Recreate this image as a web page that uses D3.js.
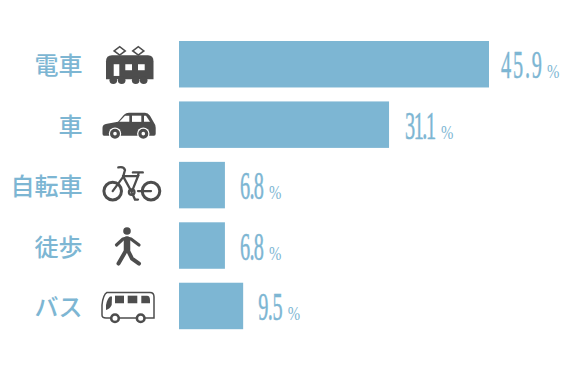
<!DOCTYPE html>
<html>
<head>
<meta charset="utf-8">
<script src="https://cdn.jsdelivr.net/npm/d3@7"></script>
<style>
  html, body { margin: 0; padding: 0; background: #fff; }
  svg { display: block; }
</style>
</head>
<body>
<div id="chart"></div>
<script>
const categories = ['電車', '車', '自転車', '徒歩', 'バス'];
const values = [45.9, 31.1, 6.8, 6.8, 9.5];
const iconNames = ['train', 'car', 'bike', 'walk', 'bus'];
const labelGaps = [12, 16, 15, 15, 15];
const numberWidths = [41, 31, 24, 24, 24.5];

const blue = '#7db6d3';
const dark = '#4d4d4d';

const svg = d3.select('#chart')
    .append('svg')
        .attr('width', 570)
        .attr('height', 370);

const x = d3.scaleLinear().domain([0, 45.9]).range([179, 489]);
const y = d3.scaleBand().domain(categories).range([41, 329.2]).paddingInner(0.231);

// bars
svg.append('g')
    .selectAll('rect')
    .data(values)
    .enter()
    .append('rect')
    .attr('x', x(0))
    .attr('y', (d, i) => y(categories[i]))
    .attr('width', d => x(d) - x(0))
    .attr('height', y.bandwidth())
    .style('fill', blue);

// category labels
svg.append('g')
    .selectAll('text')
    .data(categories)
    .enter()
    .append('text')
    .attr('x', 82.5)
    .attr('y', d => y(d) + y.bandwidth() / 2 + 10)
    .attr('text-anchor', 'end')
    .style('font-family', '"Noto Sans CJK JP"')
    .style('font-size', '24px')
    .style('font-weight', 500)
    .style('fill', blue)
    .text(d => d);

// value labels, condensed serif with a small percent sign
const labels = svg.append('g')
    .selectAll('g')
    .data(values)
    .enter()
    .append('g')
    .attr('transform', (d, i) => `translate(${x(d) + labelGaps[i]},${y(categories[i]) + y.bandwidth() / 2 + 14})`);

labels.append('text')
    .attr('transform', 'scale(0.52,1)')
    .attr('textLength', (d, i) => numberWidths[i] / 0.52)
    .attr('lengthAdjust', 'spacing')
    .style('font-family', '"Liberation Serif"')
    .style('font-size', '39px')
    .style('stroke', blue)
    .style('stroke-width', 0.5)
    .style('fill', blue)
    .text(d => d.toFixed(1));

labels.append('text')
    .attr('transform', (d, i) => `translate(${numberWidths[i] + 5},0) scale(0.78,1)`)
    .style('font-family', '"Liberation Serif"')
    .style('font-size', '19px')
    .style('fill', blue)
    .text('%');

// icons, each drawn around its own origin
const icons = {
  train: g => {
    g.append('path').attr('fill', dark)
        .attr('d', 'M-24,-3Q-24,-9 -18,-9L18,-9Q23.5,-9 23.5,-3L23.5,15L-24,15Z');
    [-16.7, -8.3, 5.7, 13.7].forEach(cx => g.append('circle').attr('cx', cx).attr('cy', 16).attr('r', 3.8).attr('fill', dark));
    [-10.3, 8.3].forEach(cx => g.append('path').attr('fill', 'none').attr('stroke', dark).attr('stroke-width', 1.6)
        .attr('d', `M${cx - 5.5},-13.3L${cx},-17.5L${cx + 5.5},-13.3L${cx},-9.2Z`));
    [[-16.3, 0, 5.6, 11.7], [-4.7, 0, 6.7, 6], [8, 0, 6.7, 6]].forEach(r => g.append('rect')
        .attr('x', r[0]).attr('y', r[1]).attr('width', r[2]).attr('height', r[3]).attr('fill', '#fff'));
  },
  car: g => {
    g.append('path').attr('fill', dark)
        .attr('d', 'M-27.5,9L-27.5,3Q-27.5,-0.5 -23,-1L-12,-3L-6,-10Q-4,-12 -1,-12L15,-12Q18,-12 20,-9L24,-2Q25.7,0 25.7,3L25.7,9Q25.7,11 24,11L-26,11Q-27.5,11 -27.5,9Z');
    ['M-10.7,-2.8L-0.7,-2.8L-0.7,-9L-5,-9Z', 'M2,-9L11.3,-9L11.3,-2.8L2,-2.8Z', 'M14,-9L16,-9L20,-2.8L14,-2.8Z']
        .forEach(d => g.append('path').attr('fill', '#fff').attr('d', d));
    [-15, 13.3].forEach(cx => {
      g.append('circle').attr('cx', cx).attr('cy', 9).attr('r', 6.2).attr('fill', '#fff');
      g.append('circle').attr('cx', cx).attr('cy', 9).attr('r', 3.4).attr('fill', '#fff').attr('stroke', dark).attr('stroke-width', 3.2);
    });
  },
  bike: g => {
    const s = g.append('g').attr('fill', 'none').attr('stroke', dark).attr('stroke-width', 2.3).attr('stroke-linecap', 'round');
    [-17.3, 21].forEach(cx => s.append('circle').attr('cx', cx).attr('cy', 6).attr('r', 8.8).attr('stroke-width', 3));
    s.append('path').attr('d', 'M-11.7,-17.7Q-6,-19 -5,-15L-7,-8L-17.3,6');
    s.append('path').attr('d', 'M-7,-9L8,-9L1.7,7L-7,-9');
    s.append('path').attr('d', 'M3,-12.7L12.7,-12.7').attr('stroke-width', 2.4);
    s.append('path').attr('d', 'M8.5,-12L8,-9');
    s.append('circle').attr('cx', 1.7).attr('cy', 7).attr('r', 2.8);
    s.append('path').attr('d', 'M2.5,9L5,14.5L8,14.5');
    s.append('path').attr('d', 'M8,6L21,6');
  },
  walk: g => {
    g.append('circle').attr('cx', -3).attr('cy', -14.5).attr('r', 3.8).attr('fill', dark);
    const s = g.append('g').attr('fill', 'none').attr('stroke', dark).attr('stroke-linecap', 'round').attr('stroke-linejoin', 'round');
    s.append('path').attr('stroke-width', 3.2).attr('d', 'M-13.5,-0.5L-7,-6.5Q-3,-8 1,-6.5L9,-0.5');
    s.append('path').attr('stroke-width', 6.5).attr('d', 'M-3,-6L-3,4');
    s.append('path').attr('stroke-width', 4).attr('d', 'M-4,5L-11.5,18M-2,5L2,13L9,18');
  },
  bus: g => {
    g.append('path').attr('fill', '#fff').attr('stroke', dark).attr('stroke-width', 1.5)
        .attr('d', 'M-24,12Q-28,12 -28,9L-28,-1Q-27,-11 -23,-13.5L20,-13.5Q24,-13.5 24,-9L24,12Z');
    g.append('path').attr('fill', dark).attr('d', 'M-20,-9.5L-18,-9.5L-18.3,-1Q-20,3 -24,4L-24,-1Q-23,-7 -20,-9.5Z');
    g.append('rect').attr('x', -15).attr('y', -10.3).attr('width', 9).attr('height', 7.6).attr('fill', dark);
    g.append('rect').attr('x', -2.3).attr('y', -10.3).attr('width', 9.6).attr('height', 7.6).attr('fill', dark);
    g.append('path').attr('fill', dark).attr('d', 'M11.3,-10.3L17,-10.3Q20,-10.3 20,-6L20,-2.7L11.3,-2.7Z');
    [-15, 10.7].forEach(cx => g.append('circle').attr('cx', cx).attr('cy', 12.3).attr('r', 3.8)
        .attr('fill', '#fff').attr('stroke', dark).attr('stroke-width', 2.6));
  }
};

iconNames.forEach((name, i) => {
  const g = svg.append('g')
      .attr('transform', `translate(130,${y(categories[i]) + y.bandwidth() / 2})`);
  icons[name](g);
});
</script>
</body>
</html>
